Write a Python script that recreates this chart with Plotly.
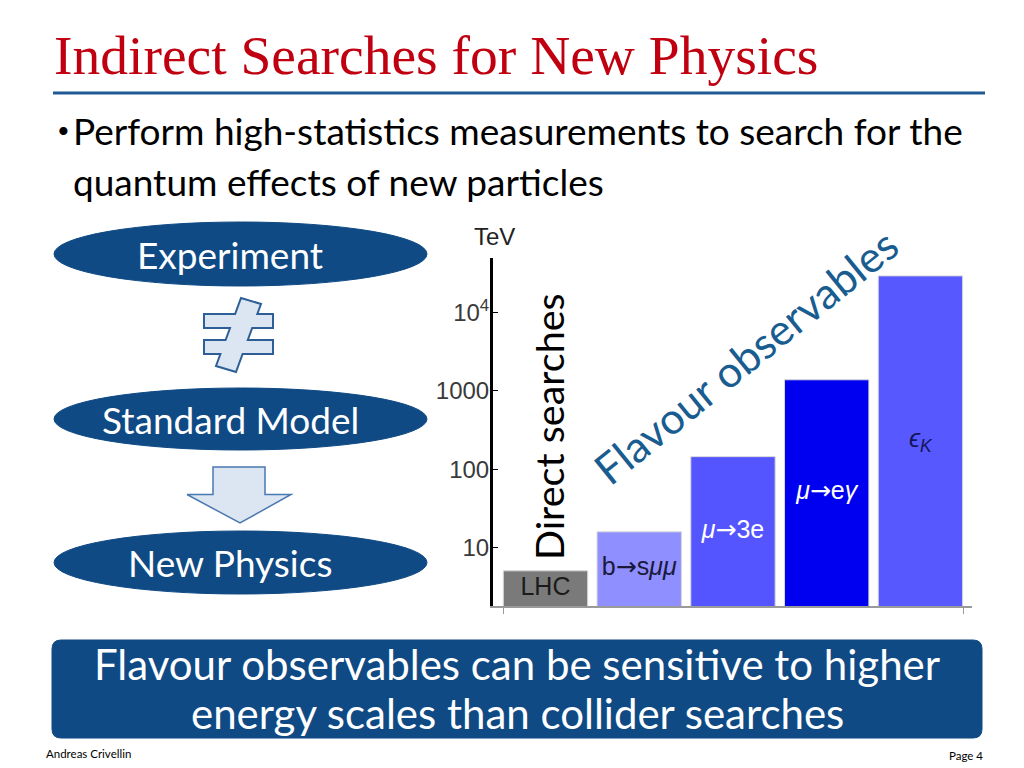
import math
import plotly.graph_objects as go

# ---------------- data ----------------
categories = ["LHC", "b→sμμ", "μ→3e", "μ→eγ", "ϵK"]
ARR = "<span style='font-family:DejaVu Sans'>→</span>"
bar_labels = ["LHC", f"b{ARR}s<i>μμ</i>", f"<i>μ</i>{ARR}3e", f"<i>μ</i>{ARR}e<i>γ</i>", "<i>ϵ</i><sub><i>K</i></sub>"]
scale_tev = [5.1, 16, 145, 1380, 29000]
bar_colors = ["#7a7a7a", "#8f8fff", "#5555ff", "#0000f0", "#5858ff"]
label_colors = ["#1a1a1a", "#1a1a3a", "#ffffff", "#ffffff", "#14145a"]
y_tick_vals = [10, 100, 1000, 10000]
y_tick_text = ["10", "100", "1000", "10<sup>4</sup>"]
y_log_range = [0.26, 4.69]

W, H = 1024, 768
def px(x):
    return x / W
def py(y):
    return 1 - y / H

SANS = "Lato, 'Open Sans', sans-serif"
ARIAL = "'Liberation Sans Narrow', 'Liberation Sans', Arial, sans-serif"
NAVY = "#0f4a85"

fig = go.Figure()

xs = list(range(len(categories)))
fig.add_trace(go.Bar(
    x=xs, y=scale_tev, width=0.9,
    marker=dict(color=bar_colors, line=dict(color="#d8d8d8", width=1)),
    hoverinfo="skip", showlegend=False,
))
# labels at the (log) middle of each bar
label_y = [10 ** ((y_log_range[0] + math.log10(v)) / 2) for v in scale_tev]
fig.add_trace(go.Scatter(
    x=xs, y=label_y, mode="text", text=bar_labels,
    textfont=dict(family=ARIAL, size=25, color=label_colors),
    hoverinfo="skip", showlegend=False,
))

fig.update_layout(
    width=W, height=H, margin=dict(l=0, r=0, t=0, b=0),
    paper_bgcolor="white", plot_bgcolor="white",
    xaxis=dict(domain=[px(493), px(972)], range=[-0.56, 4.55],
               showgrid=False, zeroline=False, showline=True,
               linecolor="#9a9a9a", linewidth=2,
               tickvals=[-0.45, 4.46], ticks="outside", ticklen=6,
               tickcolor="#9a9a9a", showticklabels=False),
    yaxis=dict(domain=[py(606), py(258)], type="log", range=y_log_range,
               showgrid=False, zeroline=False, showline=True,
               linecolor="black", linewidth=3,
               tickvals=y_tick_vals, ticktext=y_tick_text,
               ticks="inside", ticklen=5, tickcolor="black", tickwidth=1,
               ticklabelstandoff=-4,
               tickfont=dict(family=ARIAL, size=24, color="#3a3a3a")),
)

shapes = []
annotations = []

# title and rule
annotations.append(dict(x=px(52), y=py(55), xref="paper", yref="paper",
                        xanchor="left", yanchor="middle", showarrow=False,
                        text="Indirect Searches for New Physics",
                        font=dict(family="'Liberation Serif', serif", size=55.5, color="#c00010")))
shapes.append(dict(type="line", xref="paper", yref="paper",
                   x0=px(53), x1=px(985), y0=py(93), y1=py(93),
                   line=dict(color="#1f5a95", width=3)))

# bullet text
annotations.append(dict(x=px(55), y=py(129), xref="paper", yref="paper",
                        xanchor="left", yanchor="middle", showarrow=False,
                        text="•", font=dict(family=SANS, size=22, color="black")))
annotations.append(dict(x=px(71), y=py(130), xref="paper", yref="paper",
                        xanchor="left", yanchor="middle", showarrow=False,
                        text="Perform high-statistics measurements to search for the",
                        font=dict(family=SANS, size=37, color="black")))
annotations.append(dict(x=px(71), y=py(182), xref="paper", yref="paper",
                        xanchor="left", yanchor="middle", showarrow=False,
                        text="quantum effects of new particles",
                        font=dict(family=SANS, size=37, color="black")))

# ellipses
for (y0, y1, txt) in [(222, 286, "Experiment"), (388, 450, "Standard Model"), (531, 594, "New Physics")]:
    shapes.append(dict(type="circle", xref="paper", yref="paper",
                       x0=px(54), x1=px(427), y0=py(y0), y1=py(y1),
                       fillcolor=NAVY, line=dict(color=NAVY, width=1)))
    annotations.append(dict(x=px(230), y=py((y0 + y1) / 2), xref="paper", yref="paper",
                            xanchor="center", yanchor="middle", showarrow=False,
                            text=txt, font=dict(family=SANS, size=37, color="white")))

# not-equal symbol
neq = [(241, 298), (261, 304), (257.3, 314), (273, 314), (273, 328), (252.2, 328),
       (247.8, 340), (273, 340), (273, 354), (242.6, 354), (236, 372), (216, 366),
       (220.4, 354), (204, 354), (204, 340), (225.6, 340), (230, 328), (204, 328),
       (204, 314), (235.1, 314)]
path = "M " + " L ".join(f"{px(a):.5f},{py(b):.5f}" for a, b in neq) + " Z"
shapes.append(dict(type="path", xref="paper", yref="paper", path=path,
                   fillcolor="#dce6f2", line=dict(color="#2d5f96", width=2)))

# down arrow
arrow = [(213, 467), (265, 467), (265, 494.5), (291, 494.5), (240, 523), (187, 494.5), (213, 494.5)]
path = "M " + " L ".join(f"{px(a):.5f},{py(b):.5f}" for a, b in arrow) + " Z"
shapes.append(dict(type="path", xref="paper", yref="paper", path=path,
                   fillcolor="#dce6f2", line=dict(color="#4a78b0", width=1.5)))

# chart texts
annotations.append(dict(x=px(494), y=py(236), xref="paper", yref="paper",
                        xanchor="center", yanchor="middle", showarrow=False,
                        text="TeV", font=dict(family=ARIAL, size=24, color="#222222")))
annotations.append(dict(x=px(548), y=py(427), xref="paper", yref="paper",
                        xanchor="center", yanchor="middle", showarrow=False, textangle=-90,
                        text="Direct searches", font=dict(family=SANS, size=39.5, color="black")))
annotations.append(dict(x=px(745), y=py(356), xref="paper", yref="paper",
                        xanchor="center", yanchor="middle", showarrow=False, textangle=-39,
                        text="Flavour observables", font=dict(family=SANS, size=43, color="#195c90")))

# bottom rounded box
x0, x1, y0, y1, r = 52, 982, 640, 738, 9
pts = (f"M {px(x0+r)},{py(y0)} L {px(x1-r)},{py(y0)} Q {px(x1)},{py(y0)} {px(x1)},{py(y0+r)} "
       f"L {px(x1)},{py(y1-r)} Q {px(x1)},{py(y1)} {px(x1-r)},{py(y1)} "
       f"L {px(x0+r)},{py(y1)} Q {px(x0)},{py(y1)} {px(x0)},{py(y1-r)} "
       f"L {px(x0)},{py(y0+r)} Q {px(x0)},{py(y0)} {px(x0+r)},{py(y0)} Z")
shapes.append(dict(type="path", xref="paper", yref="paper", path=pts,
                   fillcolor=NAVY, line=dict(color=NAVY, width=1)))
annotations.append(dict(x=px(517), y=py(664), xref="paper", yref="paper",
                        xanchor="center", yanchor="middle", showarrow=False,
                        text="Flavour observables can be sensitive to higher",
                        font=dict(family=SANS, size=42, color="white")))
annotations.append(dict(x=px(517), y=py(713), xref="paper", yref="paper",
                        xanchor="center", yanchor="middle", showarrow=False,
                        text="energy scales than collider searches",
                        font=dict(family=SANS, size=42, color="white")))

# footer
annotations.append(dict(x=px(44), y=py(753), xref="paper", yref="paper",
                        xanchor="left", yanchor="middle", showarrow=False,
                        text="Andreas Crivellin", font=dict(family=SANS, size=11.5, color="black")))
annotations.append(dict(x=px(985), y=py(755), xref="paper", yref="paper",
                        xanchor="right", yanchor="middle", showarrow=False,
                        text="Page 4", font=dict(family=SANS, size=11.5, color="black")))

fig.update_layout(shapes=shapes, annotations=annotations)
fig.write_html("out.html", config={"displayModeBar": False},
               post_script="document.body.style.margin='0';document.body.style.overflow='hidden';")
